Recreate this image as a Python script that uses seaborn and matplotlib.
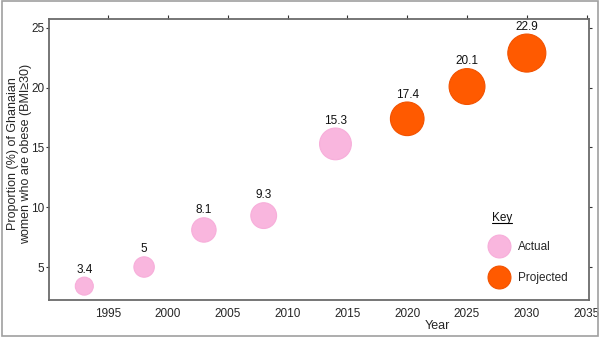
import matplotlib
matplotlib.use("Agg")
import matplotlib.pyplot as plt
import seaborn as sns
import pandas as pd
import numpy as np
from matplotlib.lines import Line2D

years = [1993, 1998, 2003, 2008, 2014, 2020, 2025, 2030]
values = [3.4, 5, 8.1, 9.3, 15.3, 17.4, 20.1, 22.9]
status = ["Actual", "Actual", "Actual", "Actual", "Actual", "Projected", "Projected", "Projected"]
value_labels = ["3.4", "5", "8.1", "9.3", "15.3", "17.4", "20.1", "22.9"]
x_ticks = [1995, 2000, 2005, 2010, 2015, 2020, 2025, 2030, 2035]
y_ticks = [5, 10, 15, 20, 25]

df = pd.DataFrame({"Year": years, "Value": values, "Status": status, "Label": value_labels})

sns.set_style("white")
plt.rcParams["font.family"] = ["Liberation Sans", "DejaVu Sans"]

fig = plt.figure(figsize=(6, 3.37), dpi=100)
fig.patch.set_facecolor("white")
fig.patches.append(plt.Rectangle((0.003, 0.004), 0.994, 0.992, transform=fig.transFigure,
                                 fill=False, edgecolor="#a0a0a0", linewidth=1.2))
ax = fig.add_axes([0.0817, 0.1098, 0.9, 0.8338])

palette = {"Actual": "#F9B6DE", "Projected": "#FF5A00"}
edge = {"Actual": "#F7AEDA", "Projected": "#F25200"}
smin, smax = 168, 750
sns.scatterplot(data=df, x="Year", y="Value", hue="Status", palette=palette,
                size="Value", sizes=(smin, smax), size_norm=(min(values), max(values)),
                edgecolor=[edge[s] for s in status], linewidth=0.8, alpha=1,
                legend=False, ax=ax, zorder=3)

for yr, v, lab in zip(years, values, value_labels):
    s = smin + (v - min(values)) / (max(values) - min(values)) * (smax - smin)
    r = np.sqrt(s) / 2
    ax.annotate(lab, (yr, v), xytext=(0, r + 1.0), textcoords="offset points",
                ha="center", va="bottom", fontsize=8.5, color="#111111")

ax.set_xlim(1990.05, 2035.2)
ax.set_ylim(2.24, 25.75)
ax.set_xticks(x_ticks)
ax.set_yticks(y_ticks)
ax.tick_params(axis="x", which="both", bottom=False, top=True, labelbottom=True,
               labeltop=False, direction="out", length=3, width=0.8, color="#333333",
               labelsize=8.5, pad=3)
ax.tick_params(axis="y", which="both", left=True, right=True, labelleft=True,
               labelright=False, direction="out", length=2.5, width=0.8, color="#333333",
               labelsize=8.5, pad=1)
for sp in ax.spines.values():
    sp.set_color("#6b6b6b")
    sp.set_linewidth(1.3)

ax.set_xlabel("Year", fontsize=9)
ax.xaxis.set_label_coords(0.72, -0.072)
ax.set_ylabel("Proportion (%) of Ghanaian\nwomen who are obese (BMI≥30)", fontsize=9,
              linespacing=1.1)
ax.yaxis.set_label_coords(-0.031, 0.52)

handles = [Line2D([], [], marker="o", linestyle="", markersize=16.5,
                  markerfacecolor=palette[k], markeredgecolor=edge[k], markeredgewidth=0.8)
           for k in ["Actual", "Projected"]]
leg = ax.legend(handles, ["Actual", "Projected"], loc="lower left",
                bbox_to_anchor=(0.799, 0.03), frameon=False, fontsize=8.5,
                labelspacing=1.65, handletextpad=0.6, borderaxespad=0.2)

key = ax.text(0.839, 0.292, "Key", transform=ax.transAxes, ha="center", va="center",
              fontsize=8.5, color="#111111")

fig.canvas.draw()
bb = key.get_window_extent(fig.canvas.get_renderer())
inv = fig.transFigure.inverted()
(x0, y0), (x1, y1) = inv.transform([(bb.x0, bb.y0), (bb.x1, bb.y0)])
fig.add_artist(Line2D([x0, x1], [y0 + 0.002, y0 + 0.002], transform=fig.transFigure,
                      color="black", linewidth=0.8))

fig.savefig("out.png", dpi=100)
